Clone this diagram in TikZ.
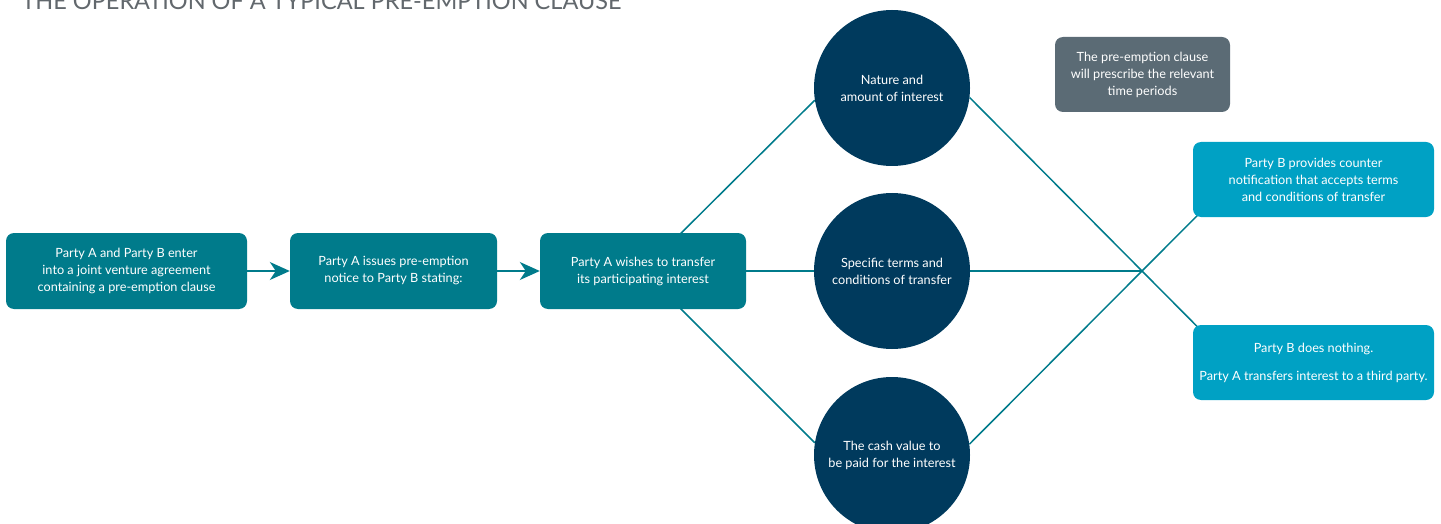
\documentclass[tikz,border=0pt]{standalone}
\usepackage{fontspec}
\setmainfont{Lato}
\usetikzlibrary{arrows.meta,backgrounds,calc}
\definecolor{jvteal}{HTML}{007B8B}
\definecolor{jvnavy}{HTML}{003A5D}
\definecolor{jvcyan}{HTML}{00A1C4}
\definecolor{jvgrey}{HTML}{5B6B75}
\definecolor{jvtitle}{HTML}{62686D}
\begin{document}
\begin{tikzpicture}[x=1pt,y=-1pt,
  box/.style={rectangle,rounded corners=8pt,fill=jvteal,text=white,align=center,
    inner sep=0pt,minimum height=76pt,font=\fontsize{12.7}{17}\selectfont},
  disc/.style={circle,fill=jvnavy,text=white,align=center,inner sep=0pt,
    minimum size=156pt,font=\fontsize{12.7}{17}\selectfont},
  link/.style={jvteal,line width=1.5pt},
  flow/.style={link,-{Stealth[length=20pt,width=18pt,inset=6pt]}}]
\useasboundingbox (0,0) rectangle (1441,524);
\node[anchor=base west,text=jvtitle,font=\fontsize{23.5}{28}\selectfont] (title) at (18,10) {THE OPERATION OF A TYPICAL PRE-EMPTION CLAUSE};

\node[box,minimum width=241pt] (b1) at (126.5,271) {Party A and Party B enter\\into a joint venture agreement\\containing a pre-emption clause};
\node[box,minimum width=207pt] (b2) at (393.5,271) {Party A issues pre-emption\\notice to Party B stating:};
\node[box,minimum width=206pt] (b3) at (643,271) {Party A wishes to transfer\\its participating interest};

\node[disc] (c1) at (892,88) {Nature and\\amount of interest};
\node[disc] (c2) at (892,271) {Specific terms and\\conditions of transfer};
\node[disc] (c3) at (892,455) {The cash value to\\be paid for the interest};

\node[box,fill=jvgrey,minimum width=175pt,minimum height=75pt] (note) at (1142.5,74.5) {The pre-emption clause\\will prescribe the relevant\\time periods};
\node[box,fill=jvcyan,minimum width=241pt,minimum height=75pt] (b4) at (1313.5,179.5) {Party B provides counter\\notification that accepts terms\\and conditions of transfer};
\node[box,fill=jvcyan,minimum width=241pt,minimum height=75pt] (b5) at (1313.5,362.5) {Party B does nothing.\\[11pt]Party A transfers interest to a third party.};

\coordinate (cross) at (1142,271);

\draw[flow] (b1) -- (b2);
\draw[flow] (b2) -- (b3);

\begin{scope}[on background layer]
\draw[link] (b3.center) -- (c1.-171.7);
\draw[link] (b3) -- (c2);
\draw[link] (b3.center) -- (c3.171.1);
\draw[link] (c2) -- (cross);
\draw[link] (c1.-7.6) -- ($(c1.-7.6)!1.33!(cross)$);
\draw[link] (c3.8.3) -- ($(c3.8.3)!1.33!(cross)$);
\end{scope}
\end{tikzpicture}
\end{document}
